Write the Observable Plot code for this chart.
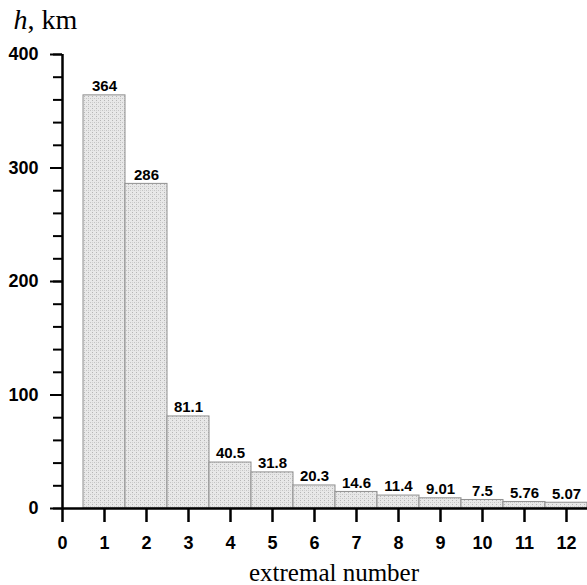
<!DOCTYPE html>
<html>
<head>
<meta charset="utf-8">
<script src="https://cdn.jsdelivr.net/npm/d3@7"></script>
<script src="https://cdn.jsdelivr.net/npm/@observablehq/plot@0.6"></script>
<style>
  html, body { margin: 0; padding: 0; background: #fff; }
  #chart { width: 587px; height: 585px; }
</style>
</head>
<body>
<div id="chart"></div>
<script>
const extremalNumbers = [1, 2, 3, 4, 5, 6, 7, 8, 9, 10, 11, 12];
const heights = [364, 286, 81.1, 40.5, 31.8, 20.3, 14.6, 11.4, 9.01, 7.5, 5.76, 5.07];
const valueLabels = ["364", "286", "81.1", "40.5", "31.8", "20.3", "14.6", "11.4", "9.01", "7.5", "5.76", "5.07"];
const xTicks = [0, 1, 2, 3, 4, 5, 6, 7, 8, 9, 10, 11, 12];
const yMajorTicks = [0, 100, 200, 300, 400];
const yMinorTicks = d3.range(0, 401, 20);
const yLabel = "h, km";
const xLabel = "extremal number";

const data = extremalNumbers.map((n, i) => ({n, h: heights[i], label: valueLabels[i]}));

const sans = "'Liberation Sans', Arial, sans-serif";
const serif = "'Liberation Serif', 'Times New Roman', serif";

const chart = Plot.plot({
  width: 587,
  height: 585,
  marginLeft: 62,
  marginRight: 0,
  marginTop: 54,
  marginBottom: 77,
  style: {fontFamily: sans, background: "#fff", overflow: "visible"},
  x: {domain: [0, 12.5], label: null},
  y: {domain: [0, 400], label: null},
  marks: [
    Plot.rectY(data, {
      x1: d => d.n - 0.5, x2: d => d.n + 0.5, y: "h",
      fill: "url(#stip)", stroke: "#909090", strokeWidth: 1
    }),
    Plot.text(data, {
      x: "n", y: "h", text: "label", dy: -9,
      fontSize: 15, fontWeight: "bold", fill: "#000", fontFamily: sans
    }),
    Plot.axisY({
      ticks: yMinorTicks, tickSize: 9, tickFormat: () => "",
      strokeWidth: 2, stroke: "#000"
    }),
    Plot.axisY({
      ticks: yMajorTicks, tickSize: 12, tickPadding: 12,
      tickFormat: d => String(d),
      fontSize: 18, fontWeight: "bold", fill: "#000", strokeWidth: 2, stroke: "#000"
    }),
    Plot.axisX({
      ticks: xTicks, tickSize: 14, tickPadding: 14,
      tickFormat: d => String(d),
      fontSize: 18, fontWeight: "bold", fill: "#000", strokeWidth: 2.5, stroke: "#000"
    }),
    Plot.ruleX([0], {stroke: "#000", strokeWidth: 2.5}),
    Plot.ruleY([0], {stroke: "#000", strokeWidth: 2.5}),
    Plot.text([yLabel], {
      frameAnchor: "top-left", dx: -49, dy: -26, textAnchor: "start", lineAnchor: "bottom",
      fontSize: 28, fontFamily: serif, fill: "#000",
      text: d => d
    }),
    Plot.text([xLabel], {
      frameAnchor: "bottom", dx: 9, dy: 72, lineAnchor: "bottom",
      fontSize: 25, fontFamily: serif, fill: "#000",
      text: d => d
    })
  ]
});

// stipple pattern for the bars
const ns = "http://www.w3.org/2000/svg";
const defs = document.createElementNS(ns, "defs");
defs.innerHTML = `
  <pattern id="stip" width="4" height="4" patternUnits="userSpaceOnUse">
    <rect width="4" height="4" fill="#e8e8e8"></rect>
    <rect x="0" y="0" width="1" height="1" fill="#b5b5b5"></rect>
    <rect x="2" y="2" width="1" height="1" fill="#c4c4c4"></rect>
    <rect x="0" y="2" width="1" height="1" fill="#d0d0d0"></rect>
  </pattern>`;
chart.insertBefore(defs, chart.firstChild);

// italic h in the y label
chart.querySelectorAll("text").forEach(t => {
  if (t.textContent === yLabel) {
    t.textContent = "";
    const a = document.createElementNS(ns, "tspan");
    a.setAttribute("font-style", "italic");
    a.textContent = "h";
    const b = document.createElementNS(ns, "tspan");
    b.textContent = ", km";
    t.appendChild(a); t.appendChild(b);
  }
});

document.getElementById("chart").appendChild(chart);
</script>
</body>
</html>
